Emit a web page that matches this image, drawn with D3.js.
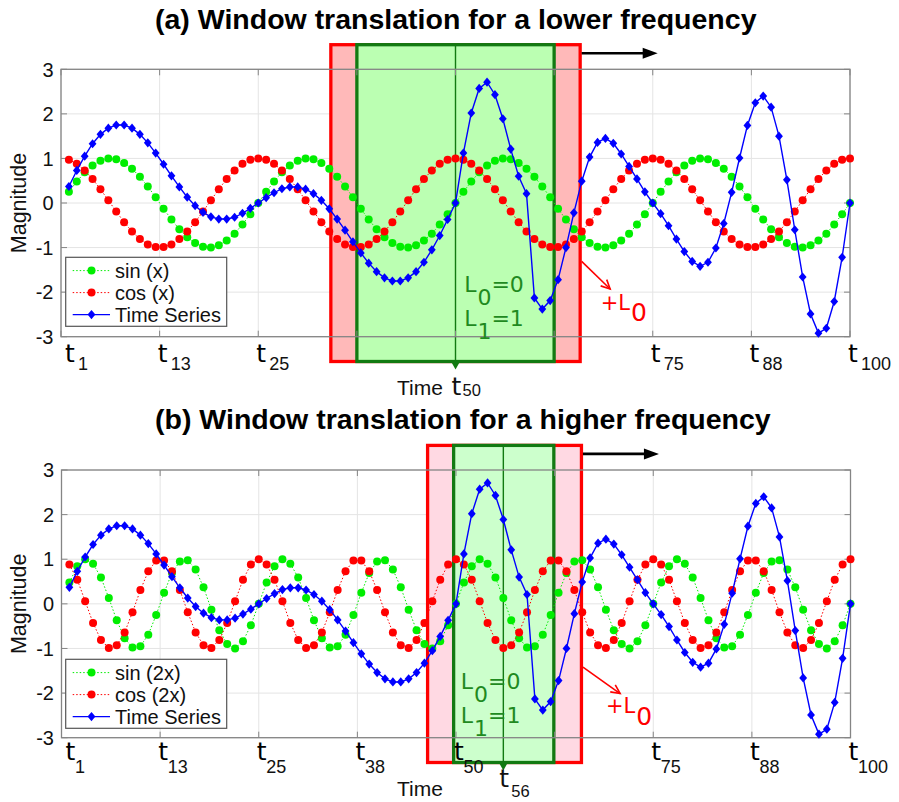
<!DOCTYPE html>
<html>
<head>
<meta charset="utf-8">
<script src="https://cdn.jsdelivr.net/npm/d3@7"></script>
<style>
  body { margin: 0; background: #fff; }
  text { font-family: "Liberation Sans", Arial, sans-serif; }
</style>
</head>
<body>
<script>
// Sample index t1..t100
const samples = d3.range(1, 101);

// Lower frequency pair, sin(x) and cos(x)
const sinX = [0.25,0.48,0.69,0.84,0.95,1.00,0.98,0.90,0.77,0.59,0.37,0.13,-0.13,-0.37,-0.59,-0.77,-0.90,-0.98,-1.00,-0.95,-0.84,-0.69,-0.48,-0.25,0.00,
  0.25,0.48,0.69,0.84,0.95,1.00,0.98,0.90,0.77,0.59,0.37,0.13,-0.13,-0.37,-0.59,-0.77,-0.90,-0.98,-1.00,-0.95,-0.84,-0.69,-0.48,-0.25,0.00,
  0.25,0.48,0.69,0.84,0.95,1.00,0.98,0.90,0.77,0.59,0.37,0.13,-0.13,-0.37,-0.59,-0.77,-0.90,-0.98,-1.00,-0.95,-0.84,-0.69,-0.48,-0.25,0.00,
  0.25,0.48,0.69,0.84,0.95,1.00,0.98,0.90,0.77,0.59,0.37,0.13,-0.13,-0.37,-0.59,-0.77,-0.90,-0.98,-1.00,-0.95,-0.84,-0.69,-0.48,-0.25,0.00];
const cosX = [0.97,0.88,0.73,0.54,0.31,0.06,-0.19,-0.43,-0.64,-0.81,-0.93,-0.99,-0.99,-0.93,-0.81,-0.64,-0.43,-0.19,0.06,0.31,0.54,0.73,0.88,0.97,1.00,
  0.97,0.88,0.73,0.54,0.31,0.06,-0.19,-0.43,-0.64,-0.81,-0.93,-0.99,-0.99,-0.93,-0.81,-0.64,-0.43,-0.19,0.06,0.31,0.54,0.73,0.88,0.97,1.00,
  0.97,0.88,0.73,0.54,0.31,0.06,-0.19,-0.43,-0.64,-0.81,-0.93,-0.99,-0.99,-0.93,-0.81,-0.64,-0.43,-0.19,0.06,0.31,0.54,0.73,0.88,0.97,1.00,
  0.97,0.88,0.73,0.54,0.31,0.06,-0.19,-0.43,-0.64,-0.81,-0.93,-0.99,-0.99,-0.93,-0.81,-0.64,-0.43,-0.19,0.06,0.31,0.54,0.73,0.88,0.97,1.00];

// Higher frequency pair, sin(2x) and cos(2x)
const sin2X = [0.48,0.84,1.00,0.90,0.59,0.13,-0.37,-0.77,-0.98,-0.95,-0.69,-0.25,0.25,0.69,0.95,0.98,0.77,0.37,-0.13,-0.59,-0.90,-1.00,-0.84,-0.48,0.00,
  0.48,0.84,1.00,0.90,0.59,0.13,-0.37,-0.77,-0.98,-0.95,-0.69,-0.25,0.25,0.69,0.95,0.98,0.77,0.37,-0.13,-0.59,-0.90,-1.00,-0.84,-0.48,0.00,
  0.48,0.84,1.00,0.90,0.59,0.13,-0.37,-0.77,-0.98,-0.95,-0.69,-0.25,0.25,0.69,0.95,0.98,0.77,0.37,-0.13,-0.59,-0.90,-1.00,-0.84,-0.48,0.00,
  0.48,0.84,1.00,0.90,0.59,0.13,-0.37,-0.77,-0.98,-0.95,-0.69,-0.25,0.25,0.69,0.95,0.98,0.77,0.37,-0.13,-0.59,-0.90,-1.00,-0.84,-0.48,0.00];
const cos2X = [0.88,0.54,0.06,-0.43,-0.81,-0.99,-0.93,-0.64,-0.19,0.31,0.73,0.97,0.97,0.73,0.31,-0.19,-0.64,-0.93,-0.99,-0.81,-0.43,0.06,0.54,0.88,1.00,
  0.88,0.54,0.06,-0.43,-0.81,-0.99,-0.93,-0.64,-0.19,0.31,0.73,0.97,0.97,0.73,0.31,-0.19,-0.64,-0.93,-0.99,-0.81,-0.43,0.06,0.54,0.88,1.00,
  0.88,0.54,0.06,-0.43,-0.81,-0.99,-0.93,-0.64,-0.19,0.31,0.73,0.97,0.97,0.73,0.31,-0.19,-0.64,-0.93,-0.99,-0.81,-0.43,0.06,0.54,0.88,1.00,
  0.88,0.54,0.06,-0.43,-0.81,-0.99,-0.93,-0.64,-0.19,0.31,0.73,0.97,0.97,0.73,0.31,-0.19,-0.64,-0.93,-0.99,-0.81,-0.43,0.06,0.54,0.88,1.00];

// The time series (same in both panels)
const timeSeries = [0.37,0.73,1.05,1.33,1.54,1.68,1.75,1.75,1.68,1.54,1.35,1.12,0.87,0.61,0.36,0.13,-0.06,-0.21,-0.31,-0.36,-0.36,-0.32,-0.23,-0.12,0.00,
  0.12,0.23,0.32,0.36,0.36,0.31,0.21,0.06,-0.13,-0.36,-0.61,-0.87,-1.12,-1.35,-1.54,-1.68,-1.75,-1.75,-1.68,-1.54,-1.33,-1.05,-0.73,-0.37,0.00,
  1.12,2.02,2.57,2.71,2.43,1.89,1.21,0.60,0.21,-2.13,-2.38,-2.19,-1.72,-1.00,-0.22,0.49,1.03,1.36,1.45,1.34,1.10,0.82,0.54,0.25,0.00,
  -0.24,-0.51,-0.81,-1.09,-1.31,-1.42,-1.33,-1.01,-0.46,0.24,1.01,1.74,2.25,2.40,2.15,1.50,0.52,-0.60,-1.66,-2.49,-2.92,-2.81,-2.21,-1.22,0.00];

// Axis ticks
const xTicks = [0, 12.5, 25, 37.5, 50, 62.5, 75, 87.5, 100];
const xTickLabels = ["1", "13", "25", "38", "50", "63", "75", "88", "100"];
const yTicks = [-3, -2, -1, 0, 1, 2, 3];

// Windows (in sample units)
const windowA = { center: 50, inner: [37.5, 62.5], outer: [34.2, 65.8] };
const windowB = { center: 56, inner: [49.7, 62.4], outer: [46.4, 65.9] };

const svg = d3.select("body").append("svg")
  .attr("width", 899)
  .attr("height", 802);

const panels = [
  {
    title: "(a) Window translation for a lower frequency", titleY: 28.5,
    left: 61, right: 850, top: 69.3, bottom: 336.7,
    s1: sinX, s2: cosX, names: ["sin (x)", "cos (x)", "Time Series"],
    win: windowA, fills: ["#ffb9b9", "#bbffb2"],
    shownTicks: [0, 1, 2, 6, 7, 8], tBase: 25, subDx: 13, subBase: 33.3,
    legendTop: 257.3,
    L0: [51.1, -1.99], L1: [51.1, -2.76],
    plusL: [68.4, -2.39], arrow: [-1.31, 69.6, -1.93],
    markLabel: "50", markTBase: 58.3, markSubDx: 11, markSubBase: 59.3
  },
  {
    title: "(b) Window translation for a higher frequency", titleY: 429,
    left: 61.5, right: 850.5, top: 470, bottom: 737.7,
    s1: sin2X, s2: cos2X, names: ["sin (2x)", "cos (2x)", "Time Series"],
    win: windowB, fills: ["#ffd9e3", "#ccffcc"],
    shownTicks: [0, 1, 2, 3, 4, 6, 7, 8], tBase: 22.3, subDx: 9.5, subBase: 35.6,
    legendTop: 659.3,
    L0: [50.6, -1.90], L1: [50.6, -2.68],
    plusL: [69.0, -2.45], arrow: [-1.42, 70.8, -2.01],
    markLabel: "56", markTBase: 49, markSubDx: 12, markSubBase: 59
  }
];

const green = "#00ee00", red = "#ff0000", blue = "#0000ff";
const darkGreen = "#127a12";

function drawPanel(p) {
  const g = svg.append("g");
  const x = d3.scaleLinear().domain([0, 100]).range([p.left, p.right]);
  const y = d3.scaleLinear().domain([-3, 3]).range([p.bottom, p.top]);

  // grid
  g.selectAll(".gx").data(xTicks).enter().append("line")
    .attr("x1", d => x(d)).attr("x2", d => x(d))
    .attr("y1", p.top).attr("y2", p.bottom)
    .attr("stroke", "#e4e4e4").attr("stroke-width", 1);
  g.selectAll(".gy").data(yTicks).enter().append("line")
    .attr("x1", p.left).attr("x2", p.right)
    .attr("y1", d => y(d)).attr("y2", d => y(d))
    .attr("stroke", "#e4e4e4").attr("stroke-width", 1);

  // window boxes
  const wTop = p.top - 24.6, wBot = p.bottom + 24.8;
  g.append("rect")
    .attr("x", x(p.win.outer[0])).attr("y", wTop)
    .attr("width", x(p.win.outer[1]) - x(p.win.outer[0])).attr("height", wBot - wTop)
    .attr("fill", p.fills[0]).attr("stroke", red).attr("stroke-width", 3.3);
  g.append("rect")
    .attr("x", x(p.win.inner[0])).attr("y", wTop)
    .attr("width", x(p.win.inner[1]) - x(p.win.inner[0])).attr("height", wBot - wTop)
    .attr("fill", p.fills[1]).attr("stroke", darkGreen).attr("stroke-width", 3.3);
  const cx = x(p.win.center);
  g.append("line")
    .attr("x1", cx).attr("x2", cx).attr("y1", wTop).attr("y2", wBot)
    .attr("stroke", darkGreen).attr("stroke-width", 1.4);
  g.append("path")
    .attr("d", `M${cx - 4.5},${wBot}L${cx + 4.5},${wBot}L${cx},${wBot + 8}Z`)
    .attr("fill", darkGreen);

  // frame and ticks
  g.append("rect")
    .attr("x", p.left).attr("y", p.top)
    .attr("width", p.right - p.left).attr("height", p.bottom - p.top)
    .attr("fill", "none").attr("stroke", "#858585").attr("stroke-width", 1.3);
  xTicks.forEach(t => {
    g.append("line").attr("x1", x(t)).attr("x2", x(t)).attr("y1", p.bottom).attr("y2", p.bottom - 6)
      .attr("stroke", "#858585");
    g.append("line").attr("x1", x(t)).attr("x2", x(t)).attr("y1", p.top).attr("y2", p.top + 6)
      .attr("stroke", "#858585");
  });
  yTicks.forEach(t => {
    g.append("line").attr("x1", p.left).attr("x2", p.left + 6).attr("y1", y(t)).attr("y2", y(t))
      .attr("stroke", "#858585");
    g.append("line").attr("x1", p.right).attr("x2", p.right - 6).attr("y1", y(t)).attr("y2", y(t))
      .attr("stroke", "#858585");
  });

  // series
  const series = [
    { vals: p.s1, color: green, dash: "1.5,2", width: 1, marker: "circle" },
    { vals: p.s2, color: red, dash: "1.5,2", width: 1, marker: "circle" },
    { vals: timeSeries, color: blue, dash: null, width: 1.4, marker: "diamond" }
  ];
  const line = d3.line().x(d => x(d[0])).y(d => y(d[1]));
  series.forEach(s => {
    const pts = samples.map((t, k) => [t, s.vals[k]]);
    g.append("path").attr("d", line(pts))
      .attr("fill", "none").attr("stroke", s.color).attr("stroke-width", s.width)
      .attr("stroke-dasharray", s.dash);
    drawMarkers(g, pts.map(d => [x(d[0]), y(d[1])]), s);
  });

  // legend
  const lg = g.append("g");
  lg.append("rect").attr("x", 65.7).attr("y", p.legendTop).attr("width", 161).attr("height", 69)
    .attr("fill", "#fff").attr("stroke", "#555").attr("stroke-width", 1.2);
  series.forEach((s, k) => {
    const ry = p.legendTop + 13.3 + k * 22;
    lg.append("line").attr("x1", 72.7).attr("x2", 110).attr("y1", ry).attr("y2", ry)
      .attr("stroke", s.color).attr("stroke-width", s.width).attr("stroke-dasharray", s.dash);
    drawMarkers(lg, [[91.5, ry]], s);
    lg.append("text").attr("x", 115).attr("y", ry).attr("dy", "0.36em")
      .attr("font-size", 20).attr("fill", "#111").text(p.names[k]);
  });

  // L labels
  [[p.L0, "L", "0", "=0"], [p.L1, "L", "1", "=1"]].forEach(([pos, a, sub, b]) => {
    const t = g.append("text").attr("x", x(pos[0])).attr("y", y(pos[1]))
      .attr("fill", "#1f8a1f").attr("font-size", 22)
      .style("font-family", "'DejaVu Sans', sans-serif");
    t.append("tspan").text(a);
    t.append("tspan").attr("dy", 13).attr("dx", 1).text(sub);
    t.append("tspan").attr("dy", -13).text(b);
  });

  // +L0 and red arrow
  const pl = g.append("text").attr("x", x(p.plusL[0])).attr("y", y(p.plusL[1]))
    .attr("fill", red).style("font-family", "'DejaVu Sans', sans-serif");
  pl.append("tspan").attr("font-size", 21).text("+L");
  pl.append("tspan").attr("font-size", 25).attr("dy", 11.5).attr("dx", 1).text("0");
  const ax0 = x(p.win.outer[1]) + 1.5, ay0 = y(p.arrow[0]);
  const ax1 = x(p.arrow[1]), ay1 = y(p.arrow[2]);
  const ang = Math.atan2(ay1 - ay0, ax1 - ax0);
  g.append("line").attr("x1", ax0).attr("y1", ay0).attr("x2", ax1).attr("y2", ay1)
    .attr("stroke", red).attr("stroke-width", 1.6);
  const hl = 10, hs = 0.45;
  g.append("path")
    .attr("d", `M${ax1 - hl * Math.cos(ang - hs)},${ay1 - hl * Math.sin(ang - hs)}L${ax1},${ay1}L${ax1 - hl * Math.cos(ang + hs)},${ay1 - hl * Math.sin(ang + hs)}`)
    .attr("fill", "none").attr("stroke", red).attr("stroke-width", 1.6);

  // black translation arrow
  const bx0 = x(p.win.outer[1]) + 1.5, bx1 = bx0 + 76, by = wTop + 8.5;
  g.append("line").attr("x1", bx0).attr("x2", bx1 - 12).attr("y1", by).attr("y2", by)
    .attr("stroke", "#000").attr("stroke-width", 2.6);
  g.append("path").attr("d", `M${bx1 - 15},${by - 5.5}L${bx1},${by}L${bx1 - 15},${by + 5.5}Z`)
    .attr("fill", "#000");

  // x tick labels
  p.shownTicks.forEach(k => {
    const tx = Math.max(x(xTicks[k]) - 2, p.left + 4);
    g.append("text").attr("x", tx).attr("y", p.bottom + p.tBase)
      .attr("font-size", 25).attr("fill", "#000")
      .style("font-family", "'DejaVu Sans', sans-serif").text("t");
    g.append("text").attr("x", tx + p.subDx).attr("y", p.bottom + p.subBase)
      .attr("font-size", 18).attr("fill", "#111").text(xTickLabels[k]);
  });

  // y tick labels and axis titles
  g.selectAll(".yl").data(yTicks).enter().append("text")
    .attr("x", p.left - 7.5).attr("y", d => y(d)).attr("dy", "0.36em")
    .attr("text-anchor", "end").attr("font-size", 20).attr("fill", "#111")
    .text(d => d);
  g.append("text")
    .attr("transform", `translate(25.5,${(p.top + p.bottom) / 2}) rotate(-90)`)
    .attr("text-anchor", "middle").attr("font-size", 21.5).attr("fill", "#111")
    .text("Magnitude");
  g.append("text").attr("x", 397).attr("y", p.bottom + 58.5)
    .attr("font-size", 21).attr("fill", "#111").text("Time");
  const mx = cx - 4;
  g.append("text").attr("x", mx).attr("y", p.bottom + p.markTBase)
    .attr("font-size", 25).attr("fill", "#111")
    .style("font-family", "'DejaVu Sans', sans-serif").text("t");
  g.append("text").attr("x", mx + p.markSubDx).attr("y", p.bottom + p.markSubBase)
    .attr("font-size", 16.5).attr("fill", "#111").text(p.markLabel);

  // title
  svg.append("text").attr("x", 155).attr("y", p.titleY)
    .attr("font-size", 28.5).attr("font-weight", "bold").attr("fill", "#000")
    .text(p.title);
}

function drawMarkers(sel, pts, s) {
  if (s.marker === "circle") {
    sel.selectAll(null).data(pts).enter().append("circle")
      .attr("cx", d => d[0]).attr("cy", d => d[1]).attr("r", 4)
      .attr("fill", s.color);
  } else {
    sel.selectAll(null).data(pts).enter().append("path")
      .attr("d", d => `M${d[0]},${d[1] - 4.6}L${d[0] + 3.9},${d[1]}L${d[0]},${d[1] + 4.6}L${d[0] - 3.9},${d[1]}Z`)
      .attr("fill", s.color);
  }
}

panels.forEach(drawPanel);
</script>
</body>
</html>
